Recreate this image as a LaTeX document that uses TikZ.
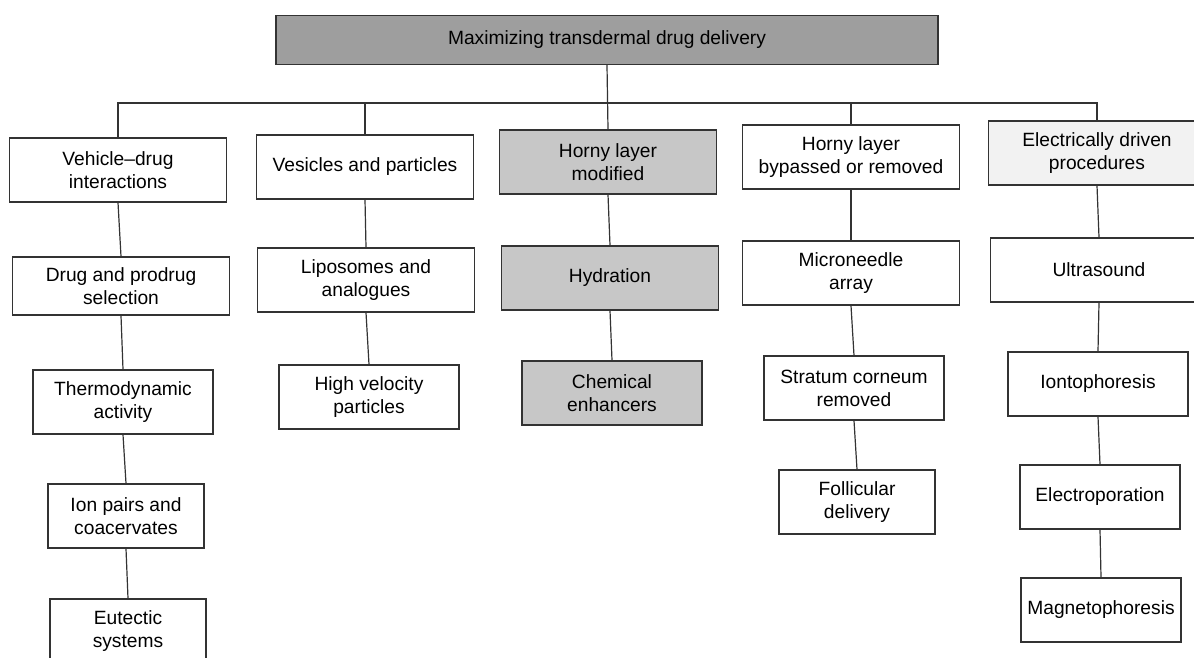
\documentclass[tikz,border=0pt]{standalone}
\usepackage{fontspec}
\setmainfont{Liberation Sans}

\begin{document}
\begin{tikzpicture}[x=0.5pt,y=-0.5pt,
  box/.style={draw=black!80, line width=0.6pt, fill=white, align=center,
    font=\fontsize{9.6}{11.5}\selectfont, inner sep=2pt, minimum height=32pt},
  wide/.style={box, minimum width=108.5pt},
  mid/.style={box, minimum width=90pt},
  narrow/.style={box, minimum width=78pt},
  shaded/.style={fill=black!22},
  link/.style={draw=black!80, line width=0.6pt}]
  \useasboundingbox (0,0) rectangle (1194,658);
  \clip (0,0) rectangle (1194,658);
  % title box
  \node[box, fill=black!38, minimum width=331pt, minimum height=24.5pt] (title) at (607,40) {Maximizing transdermal drug delivery};
  % column 1
  \node[wide] (vehicle) at (118,170) {Vehicle--drug\\interactions};
  \node[wide, minimum height=29pt] (prodrug) at (121,286) {Drug and prodrug\\selection};
  \node[mid] (thermo) at (123,402) {Thermodynamic\\activity};
  \node[narrow] (ionpairs) at (126,516) {Ion pairs and\\coacervates};
  \node[narrow] (eutectic) at (128,631) {Eutectic\\systems};
  % column 2
  \node[wide] (vesicles) at (365,167) {Vesicles and particles};
  \node[wide] (liposomes) at (366,280) {Liposomes and\\analogues};
  \node[mid] (velocity) at (369,397) {High velocity\\particles};
  % column 3 (shaded)
  \node[wide, shaded] (modified) at (608,162) {Horny layer\\modified};
  \node[wide, shaded] (hydration) at (610,278) {Hydration};
  \node[mid, shaded] (enhancers) at (612,393) {Chemical\\enhancers};
  % column 4
  \node[wide] (bypassed) at (851,157) {Horny layer\\bypassed or removed};
  \node[wide] (microneedle) at (851,273) {Microneedle\\array};
  \node[mid] (stratum) at (854,388) {Stratum corneum\\removed};
  \node[narrow] (follicular) at (857,502) {Follicular\\delivery};
  % column 5
  \node[wide, fill=black!5] (electric) at (1097,153) {Electrically driven\\procedures};
  \node[wide] (ultrasound) at (1099,270) {Ultrasound};
  \node[mid] (ionto) at (1098,384) {Iontophoresis};
  \node[box, minimum width=80pt] (electropor) at (1100,497) {Electroporation};
  \node[box, minimum width=80pt] (magneto) at (1101,610) {Magnetophoresis};
  % bus line under the title
  \coordinate (bus) at (0,103);
  \draw[link] (vehicle.north) -- (vehicle.north |- bus) -- (electric.north |- bus) -- (electric.north);
  \foreach \n in {vesicles,bypassed}
    \draw[link] (\n.north |- bus) -- (\n.north);
  \draw[link] (title.south) -- (modified.north);
  % column links
  \foreach \a/\b in {vehicle/prodrug, prodrug/thermo, thermo/ionpairs, ionpairs/eutectic,
                     vesicles/liposomes, liposomes/velocity,
                     modified/hydration, hydration/enhancers,
                     bypassed/microneedle, microneedle/stratum, stratum/follicular,
                     electric/ultrasound, ultrasound/ionto, ionto/electropor, electropor/magneto}
    \draw[link] (\a.south) -- (\b.north);
\end{tikzpicture}
\end{document}
